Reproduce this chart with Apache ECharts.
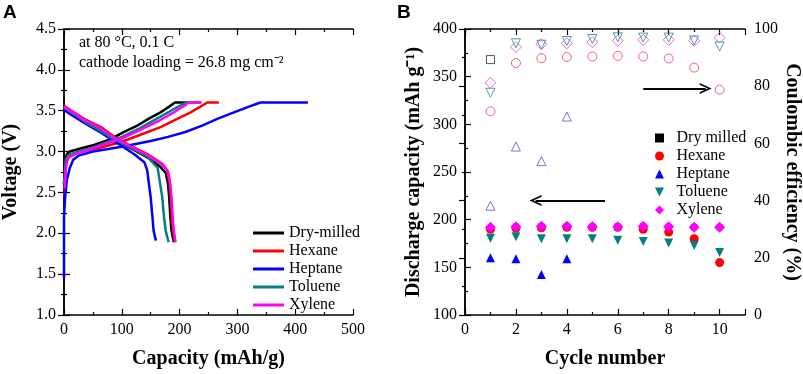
<!DOCTYPE html>
<html>
<head>
<meta charset="utf-8">
<script src="https://cdn.jsdelivr.net/npm/echarts@6/dist/echarts.min.js"></script>
<style>
  html, body { margin: 0; padding: 0; background: #fff; }
  #chart { width: 803px; height: 374px; }
</style>
</head>
<body>
<div id="chart"></div>
<script>
// panel A: voltage profiles, [capacity mAh/g, voltage V]
const dryCharge = [[0, 2.6], [2, 2.9], [5, 2.97], [10, 3.0], [30, 3.04], [52, 3.08], [80, 3.15], [104, 3.24], [125, 3.31], [146, 3.4], [167, 3.48], [182, 3.55], [192, 3.6], [215, 3.6]]
const dryDischarge = [[0, 3.53], [15, 3.46], [35, 3.36], [64, 3.24], [87, 3.14], [121, 3.02], [144, 2.93], [167, 2.81], [176, 2.74], [180, 2.6], [182, 2.44], [184, 2.2], [186, 2.03], [190, 1.89]]
const hexCharge = [[1, 2.45], [3, 2.8], [6, 2.92], [9, 2.96], [30, 3.0], [64, 3.05], [100, 3.12], [130, 3.2], [167, 3.3], [196, 3.4], [219, 3.48], [236, 3.55], [248, 3.6], [268, 3.6]]
const hexDischarge = [[0, 3.56], [15, 3.49], [35, 3.4], [64, 3.3], [87, 3.18], [121, 3.05], [144, 2.97], [170, 2.85], [179, 2.76], [183, 2.6], [185, 2.44], [187, 2.2], [189, 2.03], [192, 1.89]]
const hepCharge = [[0, 1.45], [0, 2.2], [2, 2.45], [5, 2.65], [10, 2.8], [16, 2.9], [25, 2.95], [50, 3.0], [100, 3.06], [150, 3.13], [180, 3.18], [210, 3.24], [240, 3.32], [265, 3.4], [294, 3.48], [320, 3.55], [340, 3.6], [422, 3.6]]
const hepDischarge = [[0, 3.51], [15, 3.44], [35, 3.35], [64, 3.23], [93, 3.1], [121, 2.97], [139, 2.87], [144, 2.77], [147, 2.6], [150, 2.44], [153, 2.2], [155, 2.03], [159, 1.91]]
const tolCharge = [[0, 2.6], [3, 2.9], [7, 2.95], [20, 2.99], [50, 3.05], [100, 3.18], [130, 3.28], [160, 3.4], [185, 3.5], [203, 3.57], [211, 3.6], [237, 3.6]]
const tolDischarge = [[0, 3.54], [15, 3.47], [35, 3.37], [64, 3.25], [87, 3.15], [121, 3.03], [144, 2.94], [162, 2.8], [166, 2.62], [170, 2.44], [173, 2.2], [176, 2.03], [181, 1.89]]
const xylCharge = [[1, 2.55], [4, 2.85], [8, 2.93], [20, 2.97], [50, 3.04], [100, 3.16], [130, 3.26], [165, 3.38], [190, 3.48], [208, 3.56], [216, 3.6], [238, 3.6]]
const xylDischarge = [[0, 3.55], [15, 3.48], [35, 3.39], [64, 3.28], [87, 3.17], [121, 3.04], [144, 2.96], [170, 2.84], [180, 2.76], [184, 2.6], [186, 2.44], [188, 2.2], [190, 2.03], [193, 1.89]]

// panel B: cycling
const cycles = [1, 2, 3, 4, 5, 6, 7, 8, 9, 10]
const capDry = [190, 192.5, 193, 193, 192.5, 192.5, 193, 192.5, 192, 192]
const capHexane = [190, 191, 191.5, 192, 192, 192, 190, 187, 180, 155]
const capHeptane = [160, 159, 142.5, 159, null, null, null, null, null, null]
const capToluene = [180.5, 182, 180, 180, 180, 178.5, 177, 175.5, 173, 165.5]
const capXylene = [192, 192.5, 193, 193, 192.5, 192.5, 193, 192.5, 192, 192]
const ceDry = [89.3, null, null, null, null, null, null, null, null, null]
const ceHexane = [71.2, 88.1, 89.8, 90.2, 90.4, 90.6, 90.4, 89.7, 86.5, 78.8]
const ceHeptane = [38.2, 58.9, 53.8, 69.4, null, null, null, null, null, null]
const ceToluene = [77.7, 95.0, 94.5, 95.8, 96.5, 97.1, 97.0, 97.0, 96.0, 93.9]
const ceXylene = [81.2, 93.7, 94.7, 95.0, 95.4, 95.9, 96.2, 96.2, 95.9, 97.0]

const FONT = 'Liberation Serif'
const colors = {
  dry: '#000000',
  hex: '#ff0000',
  hep: '#0000ff',
  tol: '#008080',
  xyl: '#ff00ff'
}
const downTri = 'path://M0,0 L10,0 L5,10 Z'
const chevron = 'path://M0,10 L5,0 L10,10 L8.4,10 L5,3.2 L1.6,10 Z'

function pairs(ys) {
  return cycles.map((c, i) => [c, ys[i]]).filter(p => p[1] !== null)
}

function lineSeries(name, data, color) {
  return {
    name: name,
    type: 'line',
    xAxisIndex: 0,
    yAxisIndex: 0,
    data: data,
    symbol: 'none',
    lineStyle: { color: color, width: 2.5 },
    itemStyle: { color: color },
    animation: false
  }
}

function capSeries(name, ys, color, symbol, size) {
  return {
    name: name,
    type: 'scatter',
    xAxisIndex: 2,
    yAxisIndex: 2,
    data: pairs(ys),
    symbol: symbol,
    symbolSize: size || 9,
    itemStyle: { color: color, opacity: 1 },
    animation: false
  }
}

function ceSeries(name, ys, color, symbol, size) {
  return {
    name: name,
    type: 'scatter',
    xAxisIndex: 2,
    yAxisIndex: 3,
    data: pairs(ys),
    symbol: symbol,
    symbolSize: size || 9,
    itemStyle: { color: 'rgba(0,0,0,0)', borderColor: color, borderWidth: 1 },
    animation: false
  }
}

const axisLine = { show: true, lineStyle: { color: '#000', width: 1.5 } }
const tick = { show: true, inside: true, length: 6, lineStyle: { color: '#000', width: 1.2 } }
const minor = { show: true, splitNumber: 2, length: 3, lineStyle: { color: '#000', width: 1.2 } }
const label = { color: '#000', fontFamily: FONT, fontSize: 16 }
const nameStyle = { color: '#000', fontFamily: FONT, fontSize: 20, fontWeight: 'bold' }

const chart = echarts.init(document.getElementById('chart'))

const option = {
  backgroundColor: '#fff',
  grid: [
    { left: 63, top: 29, width: 290, height: 290 },
    { left: 465, top: 29, width: 288, height: 289 }
  ],
  xAxis: [
    {
      gridIndex: 0, type: 'value', min: 0, max: 500, interval: 100,
      name: 'Capacity (mAh/g)', nameLocation: 'middle', nameGap: 34, nameTextStyle: nameStyle,
      axisLine: axisLine, axisTick: tick, minorTick: minor, splitLine: { show: false },
      axisLabel: Object.assign({ margin: 7 }, label)
    },
    {
      gridIndex: 0, type: 'value', position: 'top', min: 0, max: 500, interval: 100,
      axisLine: axisLine, axisTick: tick, minorTick: minor, splitLine: { show: false },
      axisLabel: { show: false }
    },
    {
      gridIndex: 1, type: 'value', min: 0, max: 11, interval: 2,
      name: 'Cycle number', nameLocation: 'middle', nameGap: 34, nameTextStyle: nameStyle,
      axisLine: axisLine, axisTick: tick, minorTick: minor, splitLine: { show: false },
      axisLabel: Object.assign({ margin: 7, showMaxLabel: false }, label)
    },
    {
      gridIndex: 1, type: 'value', position: 'top', min: 0, max: 11, interval: 2,
      axisLine: axisLine, axisTick: tick, minorTick: minor, splitLine: { show: false },
      axisLabel: { show: false }
    }
  ],
  yAxis: [
    {
      gridIndex: 0, type: 'value', min: 1.0, max: 4.5, interval: 0.5,
      name: 'Voltage (V)', nameLocation: 'middle', nameGap: 43, nameTextStyle: nameStyle,
      axisLine: axisLine, axisTick: tick, minorTick: minor, splitLine: { show: false },
      axisLabel: Object.assign({ margin: 8, formatter: v => v.toFixed(1) }, label)
    },
    {
      gridIndex: 0, type: 'value', position: 'right', min: 1.0, max: 4.5, interval: 0.5,
      axisLine: axisLine, axisTick: tick, minorTick: minor, splitLine: { show: false },
      axisLabel: { show: false }
    },
    {
      gridIndex: 1, type: 'value', min: 100, max: 400, interval: 50,
      name: 'Discharge capacity (mAh g\u207B\u00B9)', nameLocation: 'middle', nameGap: 41, nameTextStyle: nameStyle,
      axisLine: axisLine, axisTick: tick, minorTick: minor, splitLine: { show: false },
      axisLabel: Object.assign({ margin: 8 }, label)
    },
    {
      gridIndex: 1, type: 'value', position: 'right', min: 0, max: 100, interval: 20,
      name: 'Coulombic efficiency (%)', nameLocation: 'middle', nameGap: 30, nameRotate: -90, nameTextStyle: nameStyle,
      axisLine: axisLine, axisTick: tick, minorTick: minor, splitLine: { show: false },
      axisLabel: Object.assign({ margin: 9 }, label)
    }
  ],
  legend: [
    {
      left: 248, top: 220, orient: 'vertical', itemGap: 2,
      itemWidth: 31, itemHeight: 3, icon: 'rect', selectedMode: false,
      textStyle: { color: '#000', fontFamily: FONT, fontSize: 16, lineHeight: 16 },
      data: ['Dry-milled', 'Hexane', 'Heptane', 'Toluene', 'Xylene']
    },
    {
      left: 650, top: 125, orient: 'vertical', itemGap: 2,
      itemWidth: 24, itemHeight: 9, selectedMode: false,
      textStyle: { color: '#000', fontFamily: FONT, fontSize: 16, lineHeight: 16 },
      data: [
        { name: 'Dry milled', icon: 'path://M0,0 H10 V10 H0 Z' },
        { name: 'Hexane', icon: 'path://M5,0 A5,5,0,1,1,5,10 A5,5,0,1,1,5,0 Z', itemStyle: { color: colors.hex } },
        { name: 'Heptane', icon: 'path://M5,0 L10,10 L0,10 Z', itemStyle: { color: colors.hep } },
        { name: 'Toluene', icon: downTri, itemStyle: { color: colors.tol } },
        { name: 'Xylene', icon: 'path://M5,0 L10,5 L5,10 L0,5 Z', itemStyle: { color: colors.xyl } }
      ]
    }
  ],
  graphic: [
    { type: 'text', left: 3, top: 3, style: { text: 'A', font: 'bold 19px "Liberation Sans"', fill: '#000' } },
    { type: 'text', left: 397, top: 3, style: { text: 'B', font: 'bold 19px "Liberation Sans"', fill: '#000' } },
    { type: 'text', left: 79, top: 35, style: { text: 'at 80 \u00B0C, 0.1 C', font: '16px "Liberation Serif"', fill: '#000' } },
    { type: 'text', left: 79, top: 55, style: { text: 'cathode loading = 26.8 mg cm\u207B\u00B2', font: '16px "Liberation Serif"', fill: '#000' } }
  ],
  series: [
    lineSeries('Dry-milled', dryCharge, colors.dry),
    lineSeries('Dry-milled', dryDischarge, colors.dry),
    lineSeries('Hexane', hexCharge, colors.hex),
    lineSeries('Hexane', hexDischarge, colors.hex),
    lineSeries('Heptane', hepCharge, colors.hep),
    lineSeries('Heptane', hepDischarge, colors.hep),
    lineSeries('Toluene', tolCharge, colors.tol),
    lineSeries('Toluene', tolDischarge, colors.tol),
    lineSeries('Xylene', xylCharge, colors.xyl),
    lineSeries('Xylene', xylDischarge, colors.xyl),

    ceSeries('Dry milled CE', ceDry, '#222222', 'rect', 8),
    ceSeries('Hexane CE', ceHexane, '#f0384c', 'circle'),
    ceSeries('Heptane CE', ceHeptane, '#5a50d0', 'triangle'),
    ceSeries('Toluene CE', ceToluene, '#10908a', downTri),
    Object.assign(ceSeries('Xylene CE', ceXylene, '#e040e0', 'diamond', 11), {
      markLine: {
        silent: true, animation: false,
        symbol: ['none', chevron], symbolSize: [11, 12],
        label: { show: false },
        lineStyle: { color: '#000', width: 2, type: 'solid' },
        data: [[{ coord: [7.0, 79.2] }, { coord: [9.45, 79.2] }]]
      }
    }),

    capSeries('Dry milled', capDry, colors.dry, 'rect', 6),
    capSeries('Hexane', capHexane, colors.hex, 'circle'),
    capSeries('Heptane', capHeptane, colors.hep, 'triangle'),
    capSeries('Toluene', capToluene, colors.tol, downTri),
    Object.assign(capSeries('Xylene', capXylene, colors.xyl, 'diamond', 11), {
      markLine: {
        silent: true, animation: false,
        symbol: ['none', chevron], symbolSize: [11, 12],
        label: { show: false },
        lineStyle: { color: '#000', width: 2, type: 'solid' },
        data: [[{ coord: [5.5, 220] }, { coord: [2.77, 220] }]]
      }
    })
  ]
}

chart.setOption(option)
</script>
</body>
</html>
